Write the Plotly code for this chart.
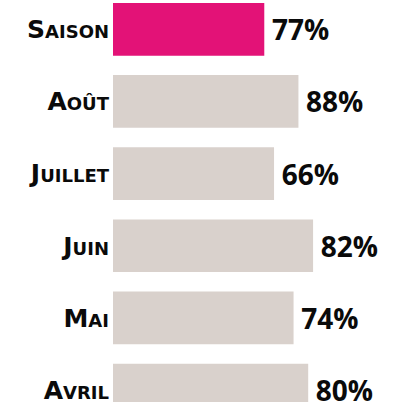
import plotly.graph_objects as go

categories = ["Saison", "Août", "Juillet", "Juin", "Mai", "Avril"]
bar_values = [62, 76, 66, 82, 74, 80]          # bar lengths as drawn
pct_labels = ["77%", "88%", "66%", "82%", "74%", "80%"]
colors = ["#E31277", "#D9D1CC", "#D9D1CC", "#D9D1CC", "#D9D1CC", "#D9D1CC"]

fig = go.Figure(go.Bar(
    x=bar_values,
    y=categories,
    orientation="h",
    marker=dict(color=colors, line=dict(width=0)),
    text=["\u2009" + t for t in pct_labels],
    textposition="outside",
    constraintext="none",
    cliponaxis=False,
    textfont=dict(family="Open Sans", size=28, color="#0a0a0a", weight="bold"),
    width=0.73,
    hoverinfo="skip",
))

fig.update_layout(
    width=404, height=405,
    margin=dict(l=113, r=47, t=0, b=0),
    paper_bgcolor="white", plot_bgcolor="white",
    showlegend=False,
    xaxis=dict(range=[0, 100], visible=False, fixedrange=True),
    yaxis=dict(
        categoryorder="array", categoryarray=categories,
        range=[5.165, -0.406],
        showgrid=False, zeroline=False, showline=False, ticks="",
        ticklabelstandoff=3, fixedrange=True,
        tickfont=dict(family="DejaVu Sans", size=25, color="#0a0a0a",
                      weight="bold", variant="small-caps"),
    ),
)

fig.write_html("out.html",
               config={"displayModeBar": False, "staticPlot": True},
               post_script="document.body.style.margin='0px';document.body.style.padding='0px';")
